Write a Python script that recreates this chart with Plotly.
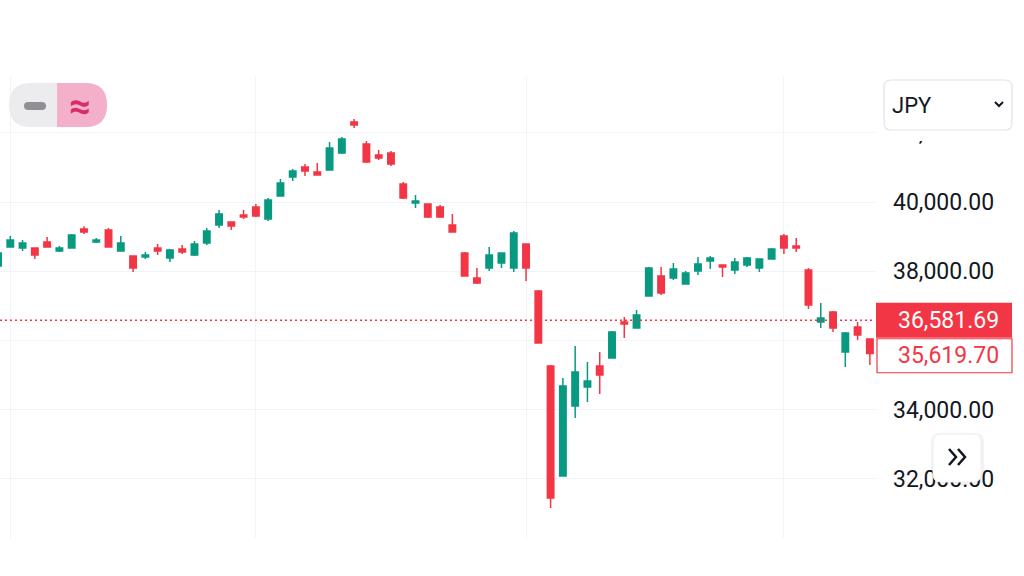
import plotly.graph_objects as go

# ---------------- data ----------------
dates = ["2024-05-31",
         "2024-06-03", "2024-06-04", "2024-06-05", "2024-06-06", "2024-06-07",
         "2024-06-10", "2024-06-11", "2024-06-12", "2024-06-13", "2024-06-14",
         "2024-06-17", "2024-06-18", "2024-06-19", "2024-06-20", "2024-06-21",
         "2024-06-24", "2024-06-25", "2024-06-26", "2024-06-27", "2024-06-28",
         "2024-07-01", "2024-07-02", "2024-07-03", "2024-07-04", "2024-07-05",
         "2024-07-08", "2024-07-09", "2024-07-10", "2024-07-11", "2024-07-12",
         "2024-07-16", "2024-07-17", "2024-07-18", "2024-07-19",
         "2024-07-22", "2024-07-23", "2024-07-24", "2024-07-25", "2024-07-26",
         "2024-07-29", "2024-07-30", "2024-07-31",
         "2024-08-01", "2024-08-02",
         "2024-08-05", "2024-08-06", "2024-08-07", "2024-08-08", "2024-08-09",
         "2024-08-13", "2024-08-14", "2024-08-15", "2024-08-16",
         "2024-08-19", "2024-08-20", "2024-08-21", "2024-08-22", "2024-08-23",
         "2024-08-26", "2024-08-27", "2024-08-28", "2024-08-29", "2024-08-30",
         "2024-09-02", "2024-09-03", "2024-09-04", "2024-09-05", "2024-09-06",
         "2024-09-09", "2024-09-10", "2024-09-11"]

open_ = [38150, 38700, 38671, 38671, 38844, 38584, 38671, 39220, 38844, 39191,
         38584, 38439, 38410, 38671, 38382, 38642, 38468, 38815, 39335, 39422,
         39624, 39856, 39509, 40173, 40723, 41012, 40867, 40925, 41416, 42312,
         41676, 41358, 41416, 40520, 39971, 39942, 39856, 39335, 38526, 37804,
         38093, 38237, 38093, 38786, 37428, 35260, 32081, 34104, 34654, 35260,
         35492, 36532, 36359, 37283, 37861, 37804, 37630, 38006, 38295, 38179,
         38035, 38179, 38093, 38353, 39017, 38728, 38035, 36532, 36821, 35665,
         36388, 36041]

high = [38555, 39017, 38902, 38690, 38988, 38728, 39075, 39300, 38960, 39249,
        39017, 38460, 38555, 38786, 38640, 38757, 38873, 39249, 39769, 39440,
        39769, 39942, 40116, 40665, 40954, 41098, 41127, 41734, 41879, 42399,
        41763, 41503, 41474, 40578, 40202, 39960, 39913, 39653, 38555, 38093,
        38700, 38550, 39162, 38810, 37457, 35289, 34914, 35838, 35376, 35665,
        36270, 36677, 36879, 38121, 38121, 38237, 38006, 38410, 38439, 38200,
        38382, 38410, 38370, 38671, 39075, 38960, 38093, 37081, 36850, 36243,
        36532, 36060]

low = [38100, 38680, 38584, 38353, 38680, 38555, 38650, 39075, 38815, 38680,
       38560, 37977, 38353, 38468, 38266, 38497, 38440, 38757, 39249, 39191,
       39509, 39567, 39451, 40150, 40607, 40751, 40760, 40900, 41390, 42139,
       41130, 41214, 41040, 40090, 39827, 39538, 39538, 39110, 37840, 37630,
       38006, 38093, 37977, 37717, 35900, 31157, 32060, 33758, 34220, 34451,
       35470, 36070, 36340, 37260, 37312, 37746, 37610, 37890, 38064, 37832,
       37919, 38121, 37977, 38330, 38497, 38555, 36908, 36359, 36243, 35232,
       36012, 35289]

close = [38526, 38902, 38815, 38468, 38700, 38671, 39046, 39133, 38902, 38700,
         38815, 38093, 38468, 38584, 38613, 38555, 38786, 39162, 39653, 39306,
         39567, 39595, 40058, 40549, 40896, 40896, 40780, 41561, 41821, 42225,
         41156, 41272, 41098, 40116, 40029, 39567, 39567, 39133, 37861, 37659,
         38468, 38526, 39104, 38093, 35925, 31446, 34682, 35087, 34827, 35000,
         36243, 36474, 36734, 38093, 37370, 38064, 37948, 38208, 38382, 38121,
         38266, 38382, 38353, 38642, 38671, 38671, 37023, 36648, 36359, 36214,
         36157, 35619.70]

y_ticks = [32000, 34000, 36000, 38000, 40000, 42000]
hidden_tick = 36000  # label covered by the price boxes
month_starts = ["2024-06-03", "2024-07-01", "2024-08-01", "2024-09-02"]
marker_price = 36581.69
last_close = 35619.70
currency = "JPY"

assert len(dates) == len(open_) == len(high) == len(low) == len(close)

# ---------------- styling ----------------
UP = "#089981"
DOWN = "#f23645"
TEXT = "#131722"
GRID = "#f0f3fa"
FONT = "Roboto"

W, H = 1024, 576
PL, PR, PT, PB = 0, 875, 77, 538


def px(x):
    return (x - PL) / (PR - PL)


def py(y):
    return (PB - y) / (PB - PT)


def rrect(x0, y0, x1, y1, r):
    """rounded rectangle path in paper coords from pixel coords"""
    pts = [
        ("M", (x0 + r, y0)), ("L", (x1 - r, y0)), ("Q", (x1, y0), (x1, y0 + r)),
        ("L", (x1, y1 - r)), ("Q", (x1, y1), (x1 - r, y1)),
        ("L", (x0 + r, y1)), ("Q", (x0, y1), (x0, y1 - r)),
        ("L", (x0, y0 + r)), ("Q", (x0, y0), (x0 + r, y0)),
    ]
    s = ""
    for p in pts:
        cmd = p[0]
        coords = " ".join(f"{px(a):.5f},{py(b):.5f}" for a, b in p[1:])
        s += f"{cmd}{coords} "
    return s + "Z"


def right_round(x0, y0, x1, y1, r):
    s = (f"M{px(x0):.5f},{py(y0):.5f} L{px(x1 - r):.5f},{py(y0):.5f} "
         f"Q{px(x1):.5f},{py(y0):.5f} {px(x1):.5f},{py(y0 + r):.5f} "
         f"L{px(x1):.5f},{py(y1 - r):.5f} "
         f"Q{px(x1):.5f},{py(y1):.5f} {px(x1 - r):.5f},{py(y1):.5f} "
         f"L{px(x0):.5f},{py(y1):.5f} Z")
    return s


fig = go.Figure()
fig.add_trace(go.Candlestick(
    x=dates, open=open_, high=high, low=low, close=close,
    increasing=dict(line=dict(color=UP, width=1.5), fillcolor=UP),
    decreasing=dict(line=dict(color=DOWN, width=1.5), fillcolor=DOWN),
    whiskerwidth=0, hoverinfo="skip", showlegend=False,
))

# y range chosen so 40,000 sits at ~202px and 38,000 at ~271px
px_per_unit = 69.2 / 2000.0
y_top = 40000 + (202 - PT) / px_per_unit
y_bot = 40000 - (PB - 202) / px_per_unit

# x range: 12.28 px per candle, first candle (index 0) slightly clipped
step = 12.28
x_left = 2 / step
x_right = x_left + (PR - PL) / step

shapes = []
# dotted price line
shapes.append(dict(type="line", xref="paper", yref="y", x0=0, x1=1,
                   y0=marker_price, y1=marker_price,
                   line=dict(color=DOWN, width=1.5, dash="2px,3px"), layer="above"))

half = 17.5 / px_per_unit
# red filled price box
shapes.append(dict(type="rect", xref="paper", yref="y", x0=px(876), x1=px(1012),
                   y0=marker_price - half, y1=marker_price + half,
                   fillcolor=DOWN, line=dict(width=0), layer="above"))
# outlined last close box (pushed below the red one)
b_top = marker_price - half - 1 / px_per_unit
b_bot = b_top - 34 / px_per_unit
shapes.append(dict(type="rect", xref="paper", yref="y", x0=px(877), x1=px(1012),
                   y0=b_bot, y1=b_top, fillcolor="white",
                   line=dict(color=DOWN, width=1.2), layer="above"))

# pill toggle (top-left)
shapes.append(dict(type="path", xref="paper", yref="paper",
                   path=rrect(9, 83, 107, 127, 22), fillcolor="#ececef",
                   line=dict(width=0), layer="above"))
shapes.append(dict(type="path", xref="paper", yref="paper",
                   path=right_round(57, 83, 107, 127, 22), fillcolor="#f4afca",
                   line=dict(width=0), layer="above"))
shapes.append(dict(type="path", xref="paper", yref="paper",
                   path=rrect(24, 102, 46, 110, 4), fillcolor="#8f9096",
                   line=dict(width=0), layer="above"))

# currency dropdown (covers top tick label)
shapes.append(dict(type="rect", xref="paper", yref="paper", x0=px(877), x1=px(1022),
                   y0=py(141), y1=py(78), fillcolor="white", line=dict(width=0),
                   layer="above"))
shapes.append(dict(type="path", xref="paper", yref="paper",
                   path=rrect(884, 80, 1012, 130, 7), fillcolor="white",
                   line=dict(color="#e0e3eb", width=1.2), layer="above"))
shapes.append(dict(type="path", xref="paper", yref="paper",
                   path=f"M{px(995):.5f},{py(102):.5f} L{px(999):.5f},{py(106):.5f} L{px(1003):.5f},{py(102):.5f}",
                   line=dict(color=TEXT, width=2), layer="above"))

# scroll-to-latest button
shapes.append(dict(type="path", xref="paper", yref="paper",
                   path=rrect(931, 433, 984, 486, 9), fillcolor="rgba(0,0,0,0.05)",
                   line=dict(width=0), layer="above"))
shapes.append(dict(type="path", xref="paper", yref="paper",
                   path=rrect(933, 434, 981, 482, 8), fillcolor="white",
                   line=dict(color="#f0f0f3", width=1), layer="above"))
for ox in (0, 9):
    shapes.append(dict(type="path", xref="paper", yref="paper",
                       path=(f"M{px(949 + ox):.5f},{py(449):.5f} L{px(956 + ox):.5f},{py(457):.5f} "
                             f"L{px(949 + ox):.5f},{py(465):.5f}"),
                       line=dict(color=TEXT, width=2.5), layer="above"))

annotations = [
    dict(xref="paper", yref="y", x=px(1001), y=marker_price, xanchor="right", yanchor="middle",
         text=f"{marker_price:,.2f}", showarrow=False,
         font=dict(family=FONT, size=23, color="white")),
    dict(xref="paper", yref="y", x=px(1001), y=(b_top + b_bot) / 2, xanchor="right", yanchor="middle",
         text=f"{last_close:,.2f}", showarrow=False,
         font=dict(family=FONT, size=23, color=DOWN)),
    dict(xref="paper", yref="paper", x=px(890), y=py(105), xanchor="left", yanchor="middle",
         text=currency, showarrow=False, font=dict(family=FONT, size=22, color=TEXT)),
    dict(xref="paper", yref="paper", x=px(80), y=py(106), xanchor="center", yanchor="middle",
         text="<b>≈</b>", showarrow=False, font=dict(family=FONT, size=38, color="#d62c68")),
]

tick_text = ["" if v == hidden_tick else f"{v:,.2f}" for v in y_ticks]

fig.update_layout(
    width=W, height=H,
    margin=dict(l=PL, r=W - PR, t=PT, b=H - PB, pad=0),
    paper_bgcolor="white", plot_bgcolor="white",
    showlegend=False,
    hovermode=False,
    boxgap=0.25,
    xaxis=dict(type="category", range=[x_left, x_right], rangeslider=dict(visible=False),
               tickmode="array", tickvals=month_starts, showticklabels=False,
               showgrid=True, gridcolor=GRID, gridwidth=1, zeroline=False,
               showline=False, ticks="", fixedrange=True),
    yaxis=dict(side="right", range=[y_bot, y_top], tickmode="array", tickvals=y_ticks,
               ticktext=tick_text, showgrid=True, gridcolor=GRID, gridwidth=1,
               zeroline=False, showline=False, ticks="", ticklabelstandoff=17,
               tickfont=dict(family=FONT, size=23, color=TEXT), fixedrange=True),
    shapes=shapes,
    annotations=annotations,
)

fig.write_html("out.html", config=dict(displayModeBar=False),
               post_script="document.body.style.margin='0px';document.body.style.overflow='hidden';")
